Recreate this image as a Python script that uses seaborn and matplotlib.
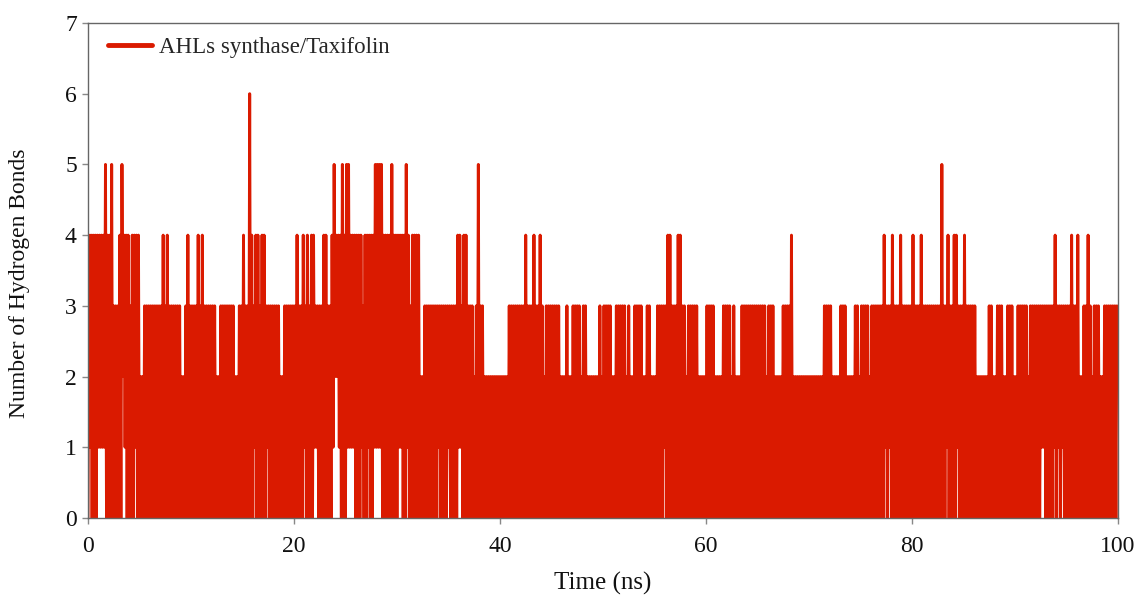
import matplotlib
matplotlib.use("Agg")
import matplotlib.pyplot as plt
import seaborn as sns
import numpy as np
import pandas as pd
from matplotlib.lines import Line2D

# H-bond count, one character per 0.2 ns window
# hb_high = highest count inside the window, hb_low = lowest count inside the window
# (each line = 10 ns, each group = 2 ns)
hb_high_blocks = [
    "4444444454 4533345444 3444422333 3333334343 3333322343",  # 0-10
    "3334343333 3322333333 3223343364 3443443333 3332233333",  # 10-20
    "3433434344 3333443345 4445455444 4443444445 5554444544",  # 20-30
    "4444543444 4223333333 3333333334 4344333235 3322222222",  # 30-40
    "2222333333 3343334334 3233333332 2232233332 3322222232",  # 40-50
    "3333223333 3232233332 2332223333 3443334433 2333332222",  # 50-60
    "3333222233 3323222333 3333333332 3332222333 3422222222",  # 60-70
    "2222222333 3222233322 2233233332 3333334333 4333433333",  # 70-80
    "4333433333 3333533433 4433343333 3222222332 2333223332",  # 80-90
    "2333332333 3333333334 3333333433 4223343233 3223333333",  # 90-100
]
hb_low_blocks = [
    "0100011110 0000000210 0001000000 0000000000 0000000000",  # 0-10
    "0000000000 0000000000 0000000000 0100000100 0000000000",  # 10-20
    "0000010000 1100000001 2210001111 0001001001 1110000000",  # 20-30
    "0110010000 0000000000 1000010000 1100000000 0000000000",  # 30-40
    "0000000000 0000000000 0000000000 0000000000 0000000000",  # 40-50
    "0000000000 0000000000 0000000000 1000000000 0000000000",  # 50-60
    "0000000000 0000000000 0000000000 0000000000 0000000000",  # 60-70
    "0000000000 0000000000 0000000000 0000000101 0000000000",  # 70-80
    "0000000000 0000000100 0010000000 0000000000 0000000000",  # 80-90
    "0000000000 0001100001 0101000000 0000000000 0000000000",  # 90-100
]
window_ns = 0.2
x_ticks = [0, 20, 40, 60, 80, 100]
y_ticks = [0, 1, 2, 3, 4, 5, 6, 7]
series_label = "AHLs synthase/Taxifolin"
line_color = "#DA1A00"

hb_high = [int(c) for c in "".join(hb_high_blocks).replace(" ", "")]
hb_low = [int(c) for c in "".join(hb_low_blocks).replace(" ", "")]
assert len(hb_high) == len(hb_low) == 500

# frames: low value at window start, high value half a window later
counts = np.ravel(np.column_stack([hb_low, hb_high]))
time_ns = np.arange(len(counts)) * window_ns / 2
df = pd.DataFrame({"time": time_ns, "hbonds": counts})

sns.set_style("ticks")
plt.rcParams["font.family"] = ["Liberation Serif", "DejaVu Serif"]

fig = plt.figure(figsize=(11.38, 5.96), dpi=100)
ax = fig.add_axes([0.0773, 0.1309, 0.9051, 0.8305])

sns.lineplot(data=df, x="time", y="hbonds", color=line_color, linewidth=2.1,
             estimator=None, ax=ax, legend=False)

ax.set_xlim(0, 100)
ax.set_ylim(0, 7)
ax.set_xticks(x_ticks)
ax.set_yticks(y_ticks)
ax.tick_params(axis="both", direction="out", length=4, width=1, color="#888888",
               labelsize=17, labelcolor="#111111")
ax.tick_params(axis="x", pad=9)
ax.tick_params(axis="y", pad=4)
for side in ["left", "right", "top", "bottom"]:
    ax.spines[side].set_visible(True)
    ax.spines[side].set_color("#666666")
    ax.spines[side].set_linewidth(1.0)

ax.set_xlabel("Time (ns)", fontsize=18, color="#111111", labelpad=11)
ax.set_ylabel("Number of Hydrogen Bonds", fontsize=17, color="#111111")
ax.yaxis.set_label_coords(-0.056, 0.475)

handle = Line2D([], [], color=line_color, linewidth=3.5)
ax.legend([handle], [series_label], loc="upper left", frameon=False, fontsize=16.5,
          handlelength=1.9, handletextpad=0.3, borderaxespad=0.3,
          bbox_to_anchor=(0.004, 1.004))

fig.savefig("out.png", dpi=100)
plt.close(fig)
